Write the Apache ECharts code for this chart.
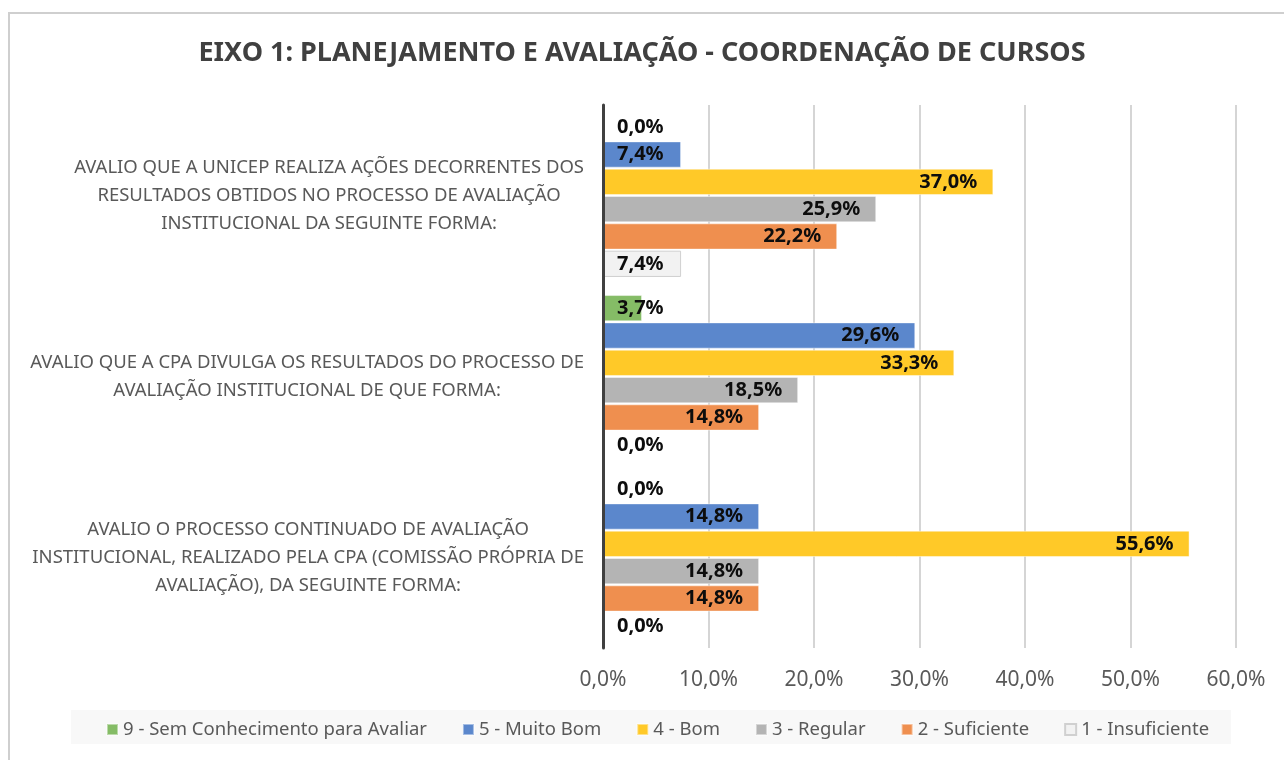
<!DOCTYPE html>
<html>
<head>
<meta charset="utf-8">
<script src="https://cdn.jsdelivr.net/npm/echarts@6/dist/echarts.min.js"></script>
<style>
  body { margin: 0; background: #fff; }
  .moldura {
    position: absolute; left: 8px; top: 12px; width: 1300px; height: 800px;
    border-left: 2px solid #cfcfcf; border-top: 2px solid #cfcfcf;
  }
  #grafico { position: absolute; left: 0; top: 0; width: 1284px; height: 760px; }
</style>
</head>
<body>
<div class="moldura"></div>
<div id="grafico"></div>
<script>
  // perguntas (de cima para baixo)
  var perguntas = [
    'AVALIO QUE A UNICEP REALIZA AÇÕES DECORRENTES DOS\nRESULTADOS OBTIDOS NO PROCESSO DE AVALIAÇÃO\nINSTITUCIONAL DA SEGUINTE FORMA:',
    'AVALIO QUE A CPA DIVULGA OS RESULTADOS DO PROCESSO DE\nAVALIAÇÃO INSTITUCIONAL DE QUE FORMA:',
    'AVALIO O PROCESSO CONTINUADO DE AVALIAÇÃO\nINSTITUCIONAL, REALIZADO PELA CPA (COMISSÃO PRÓPRIA DE\nAVALIAÇÃO), DA SEGUINTE FORMA:'
  ];
  var nomes = ['9 - Sem Conhecimento para Avaliar', '5 - Muito Bom', '4 - Bom', '3 - Regular', '2 - Suficiente', '1 - Insuficiente'];
  var cores = ['#85bc66', '#5b87cc', '#ffc928', '#b4b4b4', '#ef8f4f', '#f2f2f2'];

  // percentuais por pergunta
  var semConhecimento = [0.0, 3.7, 0.0];
  var muitoBom = [7.4, 29.6, 14.8];
  var bom = [37.0, 33.3, 55.6];
  var regular = [25.9, 18.5, 14.8];
  var suficiente = [22.2, 14.8, 14.8];
  var insuficiente = [7.4, 0.0, 0.0];
  var ticksX = [0, 10, 20, 30, 40, 50, 60];

  var valores = [semConhecimento, muitoBom, bom, regular, suficiente, insuficiente];

  function pct(v) {
    return v.toFixed(1).replace('.', ',') + '%';
  }

  var series = nomes.map(function (nome, i) {
    return {
      name: nome,
      type: 'bar',
      barGap: '4%',
      barCategoryGap: '10%',
      itemStyle: {
        color: cores[i],
        borderColor: i === 5 ? '#d0d0d0' : 'rgba(255,255,255,0.45)',
        borderWidth: 1
      },
      label: {
        show: true,
        color: '#0d0d0d',
        fontWeight: 'bold',
        fontSize: 20,
        fontFamily: 'Noto Sans',
        formatter: function (p) { return pct(p.value); }
      },
      data: valores[i].map(function (v) {
        // rótulo pequeno fica encostado no eixo
        return {
          value: v,
          itemStyle: v === 0 ? { borderWidth: 0 } : {},
          label: v < 8 ? { position: 'insideLeft', distance: 14 } : { position: 'insideRight', distance: 16 }
        };
      })
    };
  });

  var chart = echarts.init(document.getElementById('grafico'));
  chart.setOption({
    backgroundColor: 'transparent',
    animation: false,
    title: {
      text: 'EIXO 1: PLANEJAMENTO E AVALIAÇÃO - COORDENAÇÃO DE CURSOS',
      left: 'center',
      top: 35,
      textStyle: { fontFamily: 'Noto Sans', fontSize: 27, fontWeight: 'bold', color: '#404040' }
    },
    legend: {
      data: nomes,
      left: 71,
      top: 710,
      backgroundColor: '#f8f8f8',
      padding: [10, 22, 5, 35],
      itemWidth: 11,
      itemHeight: 11,
      itemGap: 35,
      icon: 'rect',
      textStyle: { fontFamily: 'Noto Sans', fontSize: 18.5, color: '#595959' }
    },
    grid: { left: 603, right: 48, top: 105, bottom: 112 },
    xAxis: {
      type: 'value',
      min: ticksX[0],
      max: ticksX[ticksX.length - 1],
      interval: 10,
      axisLine: { show: false },
      axisTick: { show: false },
      splitLine: { lineStyle: { color: '#d5d5d5', width: 2 } },
      axisLabel: {
        margin: 22,
        fontFamily: 'Noto Sans',
        fontSize: 21,
        color: '#595959',
        formatter: function (v) { return pct(v); }
      }
    },
    yAxis: {
      type: 'category',
      inverse: true,
      z: 5,
      data: perguntas,
      axisLine: { lineStyle: { color: '#404040', width: 3 } },
      axisTick: { show: false },
      axisLabel: {
        margin: 19,
        align: 'right',
        formatter: function (v) {
          return v.split('\n').map(function (l) { return '{c|' + l + '}'; }).join('\n');
        },
        rich: {
          c: { align: 'center', fontFamily: 'Noto Sans', fontSize: 18.5, color: '#595959', lineHeight: 28 }
        }
      }
    },
    series: series
  });
</script>
</body>
</html>
